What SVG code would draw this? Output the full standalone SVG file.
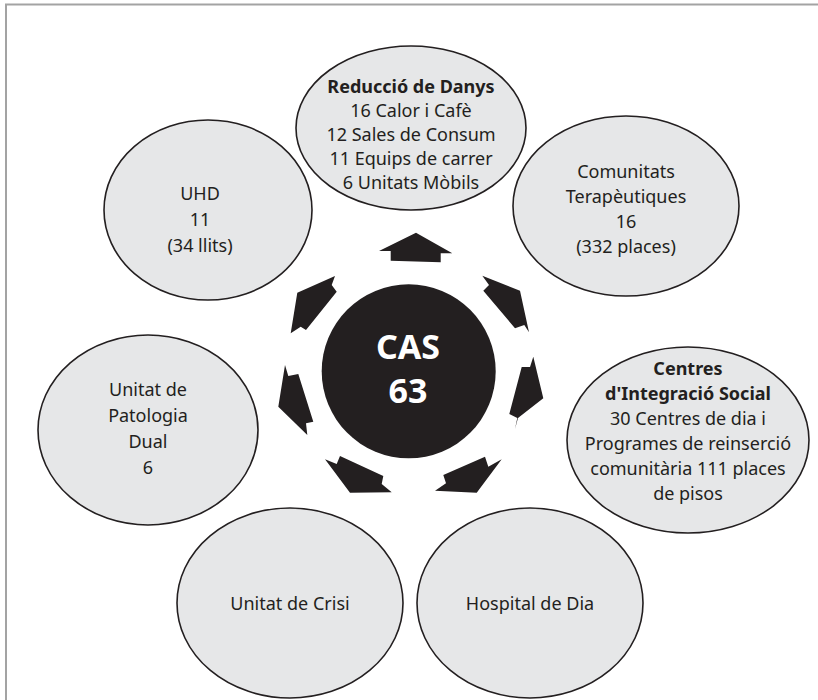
<svg xmlns="http://www.w3.org/2000/svg" width="818" height="700" viewBox="0 0 818 700">
<style>
.node ellipse{fill:#e6e7e8;stroke:#231f20;stroke-width:1.6}
.t{font-family:"Noto Sans","Open Sans",sans-serif;font-size:18px;fill:#231f20;text-anchor:middle}
.b{font-weight:bold}
.c{font-family:"Noto Sans","Open Sans",sans-serif;font-size:34px;font-weight:bold;fill:#fff;text-anchor:middle}
.ar{fill:#231f20}
</style>
<rect x="0" y="0" width="818" height="700" fill="#fff"/>
<path d="M6,700 V4.5 H818" fill="none" stroke="#a3a3a3" stroke-width="2"/>
<g id="center">
<circle cx="408.7" cy="371.3" r="87" fill="#231f20"/>
<text class="c" x="408" y="359">CAS</text>
<text class="c" x="408" y="403">63</text>
</g>
<g id="reduccio" class="node">
<ellipse cx="411" cy="128" rx="115" ry="82"/>
<text class="t b" x="411" y="93">Reducció de Danys</text>
<text class="t" x="411" y="117">16 Calor i Cafè</text>
<text class="t" x="411" y="141">12 Sales de Consum</text>
<text class="t" x="411" y="165">11 Equips de carrer</text>
<text class="t" x="411" y="189">6 Unitats Mòbils</text>
</g>
<g id="comunitats" class="node">
<ellipse cx="626" cy="206" rx="113" ry="90"/>
<text class="t" x="626" y="178">Comunitats</text>
<text class="t" x="626" y="203">Terapèutiques</text>
<text class="t" x="626" y="228">16</text>
<text class="t" x="626" y="253">(332 places)</text>
</g>
<g id="centres" class="node">
<ellipse cx="688" cy="440" rx="121" ry="93"/>
<text class="t b" x="688" y="375">Centres</text>
<text class="t b" x="688" y="400">d'Integració Social</text>
<text class="t" x="688" y="425">30 Centres de dia i</text>
<text class="t" x="688" y="450">Programes de reinserció</text>
<text class="t" x="688" y="475">comunitària 111 places</text>
<text class="t" x="688" y="500">de pisos</text>
</g>
<g id="hospital" class="node">
<ellipse cx="530" cy="603" rx="113" ry="95"/>
<text class="t" x="530" y="610">Hospital de Dia</text>
</g>
<g id="crisi" class="node">
<ellipse cx="290" cy="603" rx="113" ry="95"/>
<text class="t" x="290" y="610">Unitat de Crisi</text>
</g>
<g id="dual" class="node">
<ellipse cx="148" cy="430" rx="110" ry="95"/>
<text class="t" x="148" y="396">Unitat de</text>
<text class="t" x="148" y="422">Patologia</text>
<text class="t" x="148" y="448">Dual</text>
<text class="t" x="148" y="474">6</text>
</g>
<g id="uhd" class="node">
<ellipse cx="208" cy="210" rx="104" ry="90"/>
<text class="t" x="200" y="200">UHD</text>
<text class="t" x="200" y="226">11</text>
<text class="t" x="200" y="252">(34 llits)</text>
</g>
<g id="connectors" class="ar">
<polygon points="416,232.7 452.3,253.3 440.7,253.3 440.7,262.3 390.7,260.7 390.7,251 379,251"/>
<polygon points="482.3,275.7 520,290.7 529,332.3 524.3,325 515,328.3 483.3,290.7 489,285"/>
<polygon points="533.3,356.7 543.3,398.3 518,418 515,429 517.3,418 509.3,414 521.7,367 530,367"/>
<polygon points="435,490.7 446,483.3 443.3,475 485,456.7 488.3,466.7 501.7,459.3 476.7,492.7"/>
<polygon points="325,459.3 336.7,464 340,456 383.3,476 381.7,484 391.7,492.3 350,492.7"/>
<polygon points="285,365 288.3,376 298.3,374 313.3,421.7 306,423.3 307.3,435 278.3,406.7"/>
<polygon points="335,276 331.7,285 336.7,291.7 306,330 300.7,326.7 290.7,333.3 297.3,292.7"/>
</g>
</svg>
